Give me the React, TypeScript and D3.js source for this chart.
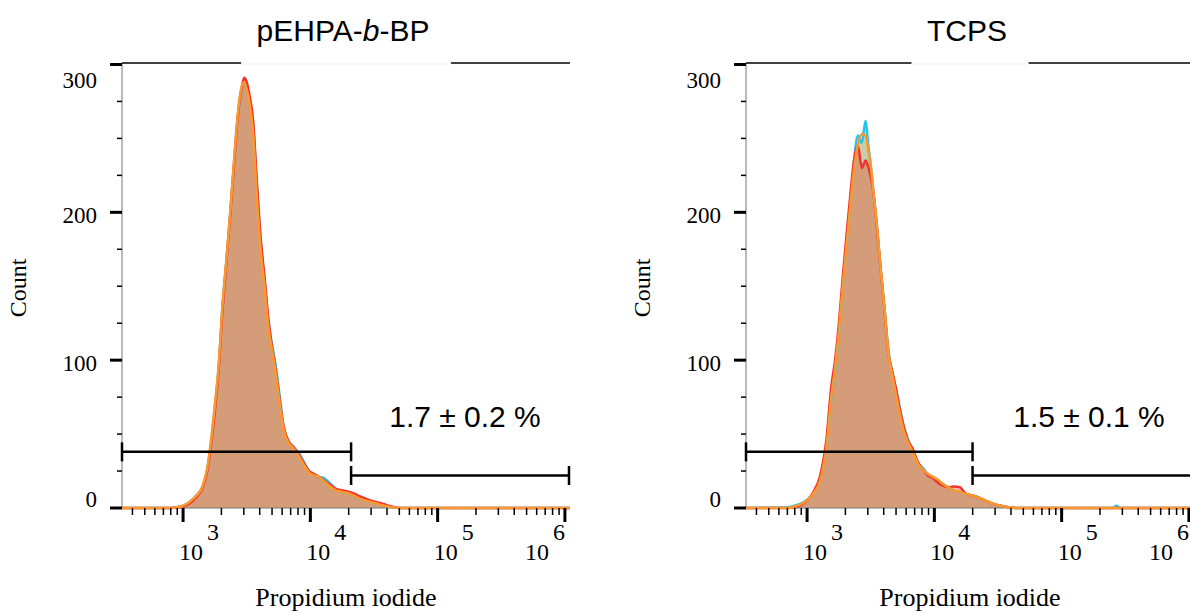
import React, { useEffect, useRef } from "react";
import * as d3 from "d3";

// log10 positions of histogram bins (Propidium iodide intensity)
const LOG_BINS = [
  2.52, 2.85, 2.9, 2.95, 3.0, 3.05, 3.1, 3.15, 3.19, 3.22,
  3.25, 3.28, 3.31, 3.34, 3.37, 3.4, 3.43, 3.46, 3.48, 3.5,
  3.52, 3.55, 3.58, 3.61, 3.64, 3.67, 3.7, 3.73, 3.76, 3.79,
  3.83, 3.87, 3.91, 3.95, 3.99, 4.03, 4.07, 4.11, 4.15, 4.2,
  4.25, 4.3, 4.35, 4.4, 4.46, 4.52, 4.58, 4.64, 4.7, 5.0,
  5.4, 5.43, 5.46, 6.04,
];

// pEHPA-b-BP panel counts
const LEFT_CYAN = [
  0, 0, 0, 0.5, 1.5, 4, 8, 14, 26, 45,
  69, 96, 137, 167, 199, 233, 265, 283, 286, 284,
  278, 260, 218, 180, 154, 126, 110, 95, 75, 55,
  45, 41, 37, 31, 25, 22, 21, 20, 17, 13,
  11, 10, 8, 6, 4.5, 3, 1.5, 0.5, 0, 0,
  0, 0, 0, 0,
];
const LEFT_RED = [
  0, 0, 0, 0.3, 1, 3, 7, 13, 25, 43,
  66, 94, 134, 166, 198, 232, 265, 284, 291, 288,
  280, 262, 220, 182, 156, 128, 108, 92, 72, 55,
  45, 41, 36, 30, 25, 23, 21, 18.5, 16, 13,
  12, 11, 9.5, 7.5, 5.5, 4, 2.5, 1, 0, 0,
  0, 0, 0, 0,
];
const LEFT_ORANGE = [
  0, 0, 0, 0.5, 1.5, 4, 8, 14, 27, 46,
  70, 97, 138, 168, 200, 235, 267, 285, 288, 283,
  275, 254, 210, 174, 150, 122, 106, 90, 70, 53,
  44, 40, 35, 29, 24, 22, 21, 18, 15, 12,
  11, 10, 8, 6, 4.5, 3, 1.5, 0.5, 0, 0,
  0, 0, 0, 0,
];

// TCPS panel counts
const RIGHT_CYAN = [
  0, 0.5, 1.5, 3, 5.5, 10, 18, 40, 74, 94,
  119, 150, 178, 206, 236, 252, 247, 262, 246, 232,
  215, 190, 160, 134, 106, 92, 80, 67, 55, 47,
  39, 31, 27, 23, 21, 19, 16, 14, 12, 11,
  9.5, 8.5, 7, 5, 3, 1.5, 0.5, 0, 0, 0,
  0, 1.5, 0, 0,
];
const RIGHT_RED = [
  0, 0, 0.5, 2, 5, 11, 21, 45, 82, 100,
  125, 156, 185, 212, 236, 245, 230, 235, 231, 224,
  214, 188, 160, 132, 104, 92, 80, 66, 55, 46,
  40, 31, 26, 22, 20, 17, 15, 14, 14.5, 14,
  9.5, 8.5, 7, 5, 3, 1.5, 0.5, 0, 0, 0,
  0, 0, 0, 0,
];
const RIGHT_ORANGE = [
  0, 0, 1, 2.5, 5, 10, 18, 40, 75, 95,
  120, 150, 178, 205, 230, 246, 253, 252, 242, 232,
  215, 190, 160, 133, 104, 90, 76, 63, 52, 45,
  38, 30, 26, 23, 21, 19, 16, 14, 12, 11,
  9.5, 8.5, 7, 5, 3, 1.5, 0.5, 0, 0, 0,
  0, 0, 0, 0,
];

const PANEL_TITLES = ["pEHPA-b-BP", "TCPS"];
const GATE_PERCENT = ["1.7 ± 0.2 %", "1.5 ± 0.1 %"];
const GATE_SPLIT_LOG = [4.32, 4.3];
const GATE_LEVELS = [38, 22]; // count heights of lower / upper gate bars
const Y_TICKS = [0, 100, 200, 300];
const X_DECADES = [3, 4, 5, 6];
const X_DOMAIN_LOG = [2.52, 6.04];
const Y_MAX = 301;
const SERIES_COLORS = ["#1ec4f2", "#f0322e", "#ff982c"];
const SERIES_FILLS = ["rgb(0,190,240)", "rgb(240,40,0)", "rgb(255,140,0)"];

const SERIF = "'Liberation Serif', 'Times New Roman', serif";
const SANS = "'Liberation Sans', Arial, sans-serif";

export default function App() {
  const ref = useRef<SVGSVGElement | null>(null);

  useEffect(() => {
    const svg = d3.select(ref.current);
    svg.selectAll("*").remove();
    svg.append("rect").attr("width", 1190).attr("height", 613).attr("fill", "#fff");

    const panels = [
      { offset: 0, series: [LEFT_CYAN, LEFT_RED, LEFT_ORANGE] },
      { offset: 624, series: [RIGHT_CYAN, RIGHT_RED, RIGHT_ORANGE] },
    ];

    panels.forEach((p, i) => {
      const g = svg.append("g").attr("transform", `translate(${p.offset},0)`);
      const x = d3
        .scaleLog()
        .domain([10 ** X_DOMAIN_LOG[0], 10 ** X_DOMAIN_LOG[1]])
        .range([122, 570]);
      const y = d3.scaleLinear().domain([0, Y_MAX]).range([508, 63]);
      const [x0, x1] = x.range();
      const [yb, yt] = y.range();

      const area = d3
        .area<number>()
        .x((_, j) => x(10 ** LOG_BINS[j]))
        .y0(y(0))
        .y1((d) => y(d))
        .curve(d3.curveMonotoneX);
      const line = d3
        .line<number>()
        .x((_, j) => x(10 ** LOG_BINS[j]))
        .y((d) => y(d))
        .curve(d3.curveMonotoneX);

      // fills: cyan, orange, red order
      [0, 2, 1].forEach((k) => {
        g.append("path")
          .attr("d", area(p.series[k]) as string)
          .attr("fill", SERIES_FILLS[k])
          .attr("fill-opacity", 0.3);
      });

      // axes lines
      g.append("line").attr("x1", x0).attr("x2", x0).attr("y1", yt).attr("y2", yb)
        .attr("stroke", "#777").attr("stroke-width", 1);
      g.append("line").attr("x1", x0).attr("x2", x1).attr("y1", yb).attr("y2", yb)
        .attr("stroke", "#777").attr("stroke-width", 1);

      // strokes: cyan, red, orange
      [0, 1, 2].forEach((k) => {
        g.append("path")
          .attr("d", line(p.series[k]) as string)
          .attr("fill", "none")
          .attr("stroke", SERIES_COLORS[k])
          .attr("stroke-width", 2.5)
          .attr("stroke-linejoin", "round");
      });

      // top frame line with title box
      g.append("line").attr("x1", x0).attr("x2", x1).attr("y1", yt).attr("y2", yt)
        .attr("stroke", "#000").attr("stroke-width", 1.5);

      const titleCx = 343;
      const title = g.append("text")
        .attr("x", titleCx).attr("y", 41)
        .attr("text-anchor", "middle")
        .attr("font-family", SANS).attr("font-size", 30).attr("fill", "#000");
      const t = PANEL_TITLES[i];
      const m = t.match(/^(.*-)(b)(-.*)$/);
      if (m) {
        title.append("tspan").text(m[1]);
        title.append("tspan").attr("font-style", "italic").text(m[2]);
        title.append("tspan").text(m[3]);
      } else {
        title.text(t);
      }
      const tw = (title.node() as SVGTextElement).getComputedTextLength();
      const boxW = tw + 37;
      g.insert("rect", "text")
        .attr("x", titleCx + 3 - boxW / 2).attr("y", 0)
        .attr("width", boxW).attr("height", yt + 1.5)
        .attr("fill", "#fff");
      g.append("line")
        .attr("x1", titleCx + 3 - boxW / 2).attr("x2", titleCx + 3 + boxW / 2)
        .attr("y1", yt + 1).attr("y2", yt + 1)
        .attr("stroke", "#f0f0f0").attr("stroke-width", 1);

      // y ticks
      for (let v = 0; v <= 300; v += 25) {
        const major = v % 100 === 0;
        g.append("line")
          .attr("x1", major ? x0 - 12 : x0 - 5).attr("x2", x0)
          .attr("y1", y(v)).attr("y2", y(v))
          .attr("stroke", "#000").attr("stroke-width", major ? 3 : 1.5);
      }
      Y_TICKS.forEach((v) => {
        const by = Math.max(yt + 25, Math.min(yb - 1, y(v) + 11));
        g.append("text")
          .attr("x", 97).attr("y", by)
          .attr("text-anchor", "end")
          .attr("font-family", SERIF).attr("font-size", 23)
          .text(String(v));
      });

      // x ticks
      const [d0, d1] = x.domain();
      for (let k = 2; k <= 6; k++) {
        for (let mm = 1; mm <= 9; mm++) {
          const v = mm * 10 ** k;
          if (v < d0 || v > d1) continue;
          const major = mm === 1;
          g.append("line")
            .attr("x1", x(v)).attr("x2", x(v))
            .attr("y1", yb).attr("y2", major ? yb + 14 : yb + 7)
            .attr("stroke", "#000").attr("stroke-width", major ? 3 : 1.5);
        }
      }
      X_DECADES.forEach((k) => {
        // labels are kept inside the axis range (last one shifts left)
        const lx = Math.min(x(10 ** k) - 4, x1 - 45);
        const tx = g.append("text")
          .attr("x", lx).attr("y", 560)
          .attr("font-family", SERIF).attr("font-size", 24);
        tx.append("tspan").text("10");
        tx.append("tspan").attr("dx", 4).attr("dy", -20).text(String(k));
      });

      // gates
      const split = x(10 ** GATE_SPLIT_LOG[i]);
      const gl = y(GATE_LEVELS[0]);
      const gh = y(GATE_LEVELS[1]);
      const gate = (xa: number, xb: number, gy: number) => {
        g.append("line").attr("x1", xa).attr("x2", xb).attr("y1", gy).attr("y2", gy)
          .attr("stroke", "#000").attr("stroke-width", 2.5);
        [xa, xb].forEach((xx) =>
          g.append("line").attr("x1", xx).attr("x2", xx).attr("y1", gy - 9.5).attr("y2", gy + 9.5)
            .attr("stroke", "#000").attr("stroke-width", 2.5)
        );
      };
      gate(x0, split, gl);
      gate(split, x1 - 1, gh);

      g.append("text")
        .attr("x", 465).attr("y", 427)
        .attr("text-anchor", "middle")
        .attr("font-family", SANS).attr("font-size", 30)
        .text(GATE_PERCENT[i]);

      // axis titles
      g.append("text")
        .attr("transform", `translate(26,288) rotate(-90)`)
        .attr("text-anchor", "middle")
        .attr("font-family", SERIF).attr("font-size", 24)
        .text("Count");
      g.append("text")
        .attr("x", 346).attr("y", 606)
        .attr("text-anchor", "middle")
        .attr("font-family", SERIF).attr("font-size", 26)
        .text("Propidium iodide");
    });
  }, []);

  return (
    <svg
      ref={ref}
      width={1190}
      height={613}
      style={{ position: "absolute", left: 0, top: 0, display: "block" }}
    />
  );
}
